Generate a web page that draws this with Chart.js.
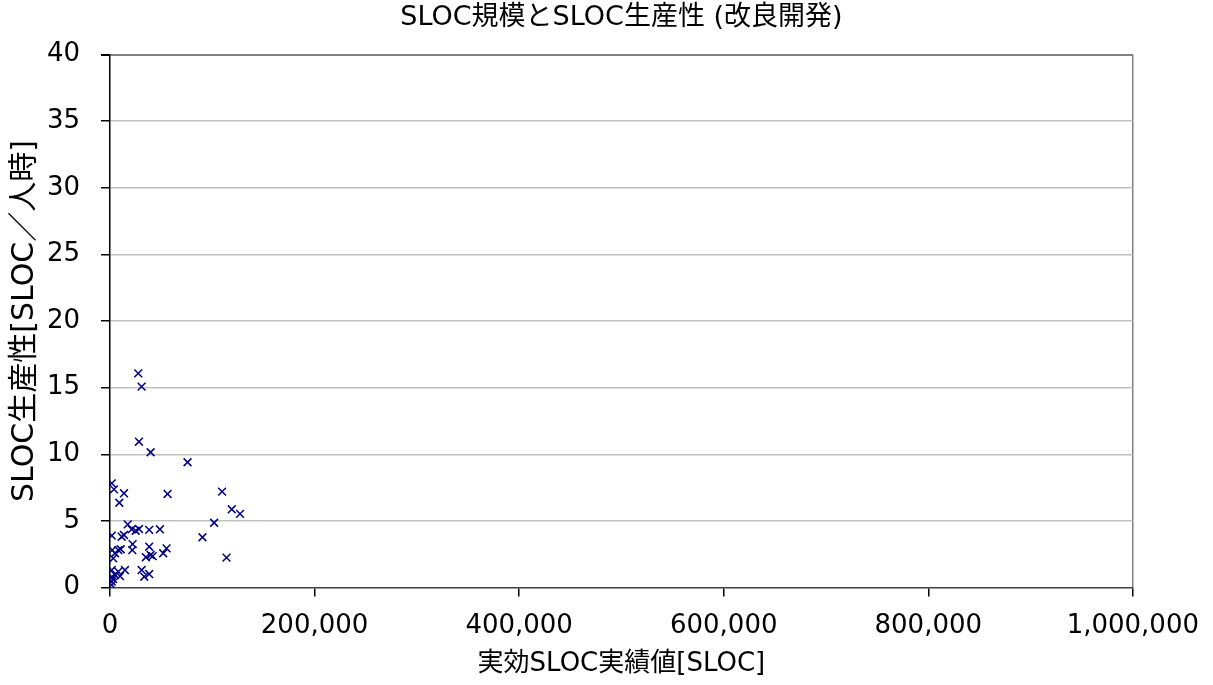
<!DOCTYPE html>
<html>
<head>
<meta charset="utf-8">
<script src="https://cdn.jsdelivr.net/npm/chart.js@4"></script>
<style>
  html, body { margin: 0; padding: 0; background: #fff; }
  #wrap { width: 1213px; height: 685px; }
</style>
</head>
<body>
<div id="wrap"><canvas id="chart" width="1213" height="685"></canvas></div>
<script>
// effective SLOC (x) and SLOC per person-hour (y)
const slocActual = [
    27600, 30900, 28300, 39700, 75800,
    1700, 3900, 13700, 9100, 56300, 109600, 119000, 127100, 101800, 90400, 113900,
    17300, 21200, 25100, 28300, 38300, 48800,
    1700, 11400, 13700, 22100,
    2200, 8100, 10400, 4900, 3200, 21800, 38300, 55300, 52000, 35100, 39700, 41700,
    1700, 8100, 14600, 4900, 1700, 9800, 30900, 33500, 38300,
    1700, 1700, 2900
];
const productivity = [
    16.07, 15.07, 10.94, 10.15, 9.40,
    7.82, 7.37, 7.07, 6.36, 7.02, 7.19, 5.87, 5.52, 4.86, 3.77, 2.24,
    4.74, 4.37, 4.26, 4.39, 4.32, 4.37,
    3.89, 3.81, 3.94, 3.26,
    2.81, 2.81, 2.87, 2.57, 2.19, 2.81, 3.06, 2.94, 2.57, 2.27, 2.44, 2.36,
    1.31, 1.19, 1.31, 0.94, 0.81, 0.86, 1.31, 0.81, 1.01,
    0.44, 0.19, 0.64
];

const xTickStep = 200000;
const xMax = 1000000;
const yTickStep = 5;
const yMax = 40;

const chartTitle = 'SLOC規模とSLOC生産性 (改良開発)';
const xTitle = '実効SLOC実績値[SLOC]';
const yTitle = 'SLOC生産性[SLOC／人時]';

const FONT = '"DejaVu Sans", Verdana, "Noto Sans CJK JP", sans-serif';

const points = slocActual.map((x, i) => ({ x: x, y: productivity[i] }));

const ctx = document.getElementById('chart').getContext('2d');
new Chart(ctx, {
    type: 'scatter',
    data: {
        datasets: [{
            label: 'SLOC生産性',
            data: points,
            pointStyle: 'crossRot',
            pointRadius: 5.5,
            pointHoverRadius: 5.5,
            borderWidth: 1.5,
            borderColor: '#000080',
            backgroundColor: '#000080',
        }]
    },
    options: {
        responsive: false,
        animation: false,
        layout: {
            padding: { left: 0, right: 78, top: 0, bottom: 0 }
        },
        plugins: {
            legend: { display: false },
            tooltip: { enabled: false },
            title: {
                display: true,
                text: chartTitle,
                fullSize: false,
                color: '#000',
                font: { family: FONT, size: 27, weight: 'normal' },
                padding: { top: 2, bottom: 20.1 },
            }
        },
        scales: {
            x: {
                type: 'linear',
                min: 0,
                max: xMax,
                afterFit: (scale) => { scale.height = 97.5; },
                ticks: {
                    stepSize: xTickStep,
                    padding: 14,
                    color: '#000',
                    maxRotation: 0,
                    font: { family: FONT, size: 26 },
                    callback: (v) => v.toLocaleString('en-US'),
                },
                grid: {
                    color: (c) => (c.index === 5 ? '#808080' : 'rgba(0,0,0,0)'),
                    tickColor: '#000',
                    tickLength: 9,
                    lineWidth: 1.5,
                },
                border: { color: '#404040', width: 1.5 },
                title: {
                    display: true,
                    text: xTitle,
                    color: '#000',
                    font: { family: FONT, size: 26 },
                    padding: { top: 0, bottom: 5 },
                }
            },
            y: {
                min: 0,
                max: yMax,
                afterFit: (scale) => { scale.width = 110; },
                ticks: {
                    stepSize: yTickStep,
                    padding: 21,
                    color: '#000',
                    font: { family: FONT, size: 26 },
                },
                grid: {
                    color: (c) => (c.index === 0 ? 'rgba(0,0,0,0)' : (c.index === 8 ? '#808080' : '#c0c0c0')),
                    tickColor: '#000',
                    tickLength: 9,
                    lineWidth: (c) => (c.index === 8 ? 2 : 1.5),
                },
                border: { color: '#000', width: 1.5 },
                title: {
                    display: true,
                    text: yTitle,
                    color: '#000',
                    font: { family: FONT, size: 30 },
                    padding: { top: 7, bottom: 0 },
                }
            }
        }
    }
});
</script>
</body>
</html>
